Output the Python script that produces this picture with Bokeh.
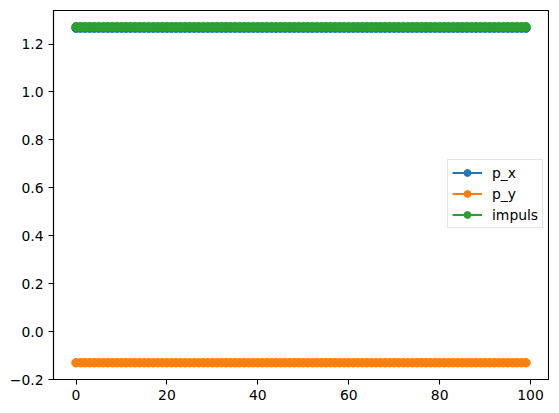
from bokeh.plotting import figure
from bokeh.models import Range1d, FixedTicker, CustomJSTickFormatter, Legend, LegendItem, ColumnDataSource
from bokeh.embed import file_html
from bokeh.resources import INLINE

# data
steps = list(range(100))
p_x = [1.266] * 100
p_y = [-0.13] * 100
impuls = [1.2727] * 100

series_names = ["p_x", "p_y", "impuls"]
series_values = [p_x, p_y, impuls]
colors = ["#1f77b4", "#ff7f0e", "#2ca02c"]

x_ticks = [0, 20, 40, 60, 80, 100]
y_ticks = [-0.2, 0.0, 0.2, 0.4, 0.6, 0.8, 1.0, 1.2]

FONT = "DejaVu Sans"
FS = "13.9px"

p = figure(width=549, height=403, output_backend="svg", toolbar_location=None,
           x_range=Range1d(-4.95, 103.95), y_range=Range1d(-0.2, 1.34),
           min_border_left=53, min_border_right=1, min_border_top=10, min_border_bottom=24)
p.background_fill_color = "white"
p.border_fill_color = "white"
p.outline_line_color = "black"
p.outline_line_width = 1.1
p.xgrid.visible = False
p.ygrid.visible = False

for ax in (p.xaxis[0], p.yaxis[0]):
    ax.axis_line_color = "black"
    ax.axis_line_width = 1.1
    ax.major_tick_line_color = "black"
    ax.major_tick_line_width = 1.1
    ax.major_tick_out = 5
    ax.major_tick_in = 0
    ax.minor_tick_line_color = None
    ax.major_label_text_font = FONT
    ax.major_label_text_font_size = FS
    ax.major_label_text_color = "black"
    ax.major_label_standoff = 5

p.xaxis[0].ticker = FixedTicker(ticks=x_ticks)
p.yaxis[0].ticker = FixedTicker(ticks=y_ticks)
p.xaxis[0].formatter = CustomJSTickFormatter(code="return tick.toFixed(0);")
p.yaxis[0].formatter = CustomJSTickFormatter(code="return tick.toFixed(1).replace('-', '\u2212');")

items = []
for name, vals, c in zip(series_names, series_values, colors):
    src = ColumnDataSource(dict(x=steps, y=vals))
    ln = p.line("x", "y", source=src, line_color=c, line_width=2.1)
    sc = p.scatter("x", "y", source=src, size=8.5, fill_color=c, line_color=c, line_width=1)
    items.append(LegendItem(label=name, renderers=[ln, sc]))

legend = Legend(items=items, location=(394, 151))
legend.label_text_font = FONT
legend.label_text_font_size = FS
legend.label_text_color = "black"
legend.glyph_width = 30
legend.glyph_height = 17
legend.label_height = 17
legend.label_standoff = 10
legend.spacing = 4
legend.padding = 4
legend.margin = 0
legend.border_line_color = "#cccccc"
legend.border_line_width = 1
legend.background_fill_color = "white"
legend.background_fill_alpha = 0.8
p.add_layout(legend)

open("out.html", "w").write(file_html(p, INLINE))
